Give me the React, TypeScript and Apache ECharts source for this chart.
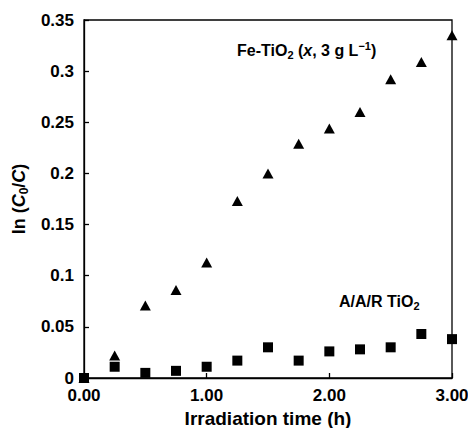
import React, { useEffect, useRef } from "react";
import * as echarts from "echarts";

const times = [0, 0.25, 0.5, 0.75, 1.0, 1.25, 1.5, 1.75, 2.0, 2.25, 2.5, 2.75, 3.0];
const feTiO2 = [0, 0.022, 0.071, 0.086, 0.113, 0.173, 0.2, 0.229, 0.244, 0.26, 0.292, 0.309, 0.335];
const aarTiO2 = [0, 0.011, 0.005, 0.007, 0.011, 0.017, 0.03, 0.017, 0.026, 0.028, 0.03, 0.043, 0.038];
const yTicks = { min: 0, max: 0.35, interval: 0.05 };
const xTicks = { min: 0, max: 3, interval: 1 };

const FONT = "'Liberation Sans', Arial, sans-serif";

export default function App() {
  const ref = useRef<HTMLDivElement>(null);
  useEffect(() => {
    if (!ref.current) return;
    const chart = echarts.init(ref.current, undefined, { renderer: "svg" });
    chart.setOption({
      animation: false,
      backgroundColor: "#fff",
      grid: {
        left: 84,
        right: 16,
        top: 20,
        bottom: 50,
        outerBoundsMode: "none",
        containLabel: false,
        show: true,
        borderColor: "#000",
        borderWidth: 1.3,
        backgroundColor: "transparent",
      },
      xAxis: {
        type: "value",
        min: xTicks.min,
        max: xTicks.max,
        interval: xTicks.interval,
        name: "Irradiation time (h)",
        nameLocation: "middle",
        nameGap: 31,
        nameTextStyle: { fontFamily: FONT, fontWeight: "bold", fontSize: 19, color: "#000", lineHeight: 19 },
        axisLine: { show: true, onZero: false, lineStyle: { color: "#000", width: 1.3 } },
        axisTick: { show: true, inside: true, length: 5, lineStyle: { color: "#000", width: 1.3 } },
        axisLabel: {
          fontFamily: FONT,
          fontWeight: "bold",
          fontSize: 17,
          lineHeight: 15,
          color: "#000",
          margin: 10,
          formatter: (v: number) => v.toFixed(2),
        },
        splitLine: { show: false },
      },
      yAxis: {
        type: "value",
        min: yTicks.min,
        max: yTicks.max,
        interval: yTicks.interval,
        name: "{n|ln (}{i|C}{s|0}{n|/}{i|C}{n|)}",
        nameLocation: "middle",
        nameGap: 52,
        nameRotate: 90,
        nameTextStyle: {
          fontFamily: FONT,
          fontWeight: "bold",
          fontSize: 18,
          color: "#000",
          rich: {
            n: { fontFamily: FONT, fontWeight: "bold", fontSize: 18, color: "#000", lineHeight: 22, verticalAlign: "middle" },
            i: { fontFamily: FONT, fontWeight: "bold", fontStyle: "italic", fontSize: 18, color: "#000", lineHeight: 22, verticalAlign: "middle" },
            s: { fontFamily: FONT, fontWeight: "bold", fontSize: 12, color: "#000", lineHeight: 22, verticalAlign: "bottom" },
          },
        },
        axisLine: { show: true, lineStyle: { color: "#000", width: 1.3 } },
        axisTick: { show: true, inside: true, length: 5, lineStyle: { color: "#000", width: 1.3 } },
        axisLabel: { fontFamily: FONT, fontWeight: "bold", fontSize: 17, lineHeight: 13, color: "#000", margin: 10 },
        splitLine: { show: false },
      },
      graphic: [
        {
          type: "text",
          left: 237,
          top: 40,
          style: {
            text: "{n|Fe-TiO}{s|2}{n| (}{i|x}{n|, 3 g L}{p|−1}{n|)}",
            rich: {
              n: { fontFamily: FONT, fontWeight: "bold", fontSize: 16, fill: "#000", lineHeight: 20, verticalAlign: "middle" },
              i: { fontFamily: FONT, fontWeight: "bold", fontStyle: "italic", fontSize: 16, fill: "#000", lineHeight: 20, verticalAlign: "middle" },
              s: { fontFamily: FONT, fontWeight: "bold", fontSize: 11, fill: "#000", lineHeight: 20, verticalAlign: "bottom" },
              p: { fontFamily: FONT, fontWeight: "bold", fontSize: 11, fill: "#000", lineHeight: 20, verticalAlign: "top" },
            },
          },
        },
        {
          type: "text",
          left: 339,
          top: 293,
          style: {
            text: "{n|A/A/R TiO}{s|2}",
            rich: {
              n: { fontFamily: FONT, fontWeight: "bold", fontSize: 16, fill: "#000", lineHeight: 20, verticalAlign: "middle" },
              s: { fontFamily: FONT, fontWeight: "bold", fontSize: 11, fill: "#000", lineHeight: 20, verticalAlign: "bottom" },
            },
          },
        },
      ],
      series: [
        {
          type: "scatter",
          name: "Fe-TiO2",
          symbol: "triangle",
          symbolSize: [11, 10],
          clip: false,
          itemStyle: { color: "#000", opacity: 1 },
          data: times.map((t, i) => [t, feTiO2[i]]),
          z: 2,
        },
        {
          type: "scatter",
          name: "A/A/R TiO2",
          symbol: "rect",
          symbolSize: 10,
          clip: false,
          itemStyle: { color: "#000", opacity: 1 },
          data: times.map((t, i) => [t, aarTiO2[i]]),
          z: 3,
        },
      ],
    });
    return () => chart.dispose();
  }, []);
  return <div ref={ref} style={{ width: 468, height: 428, position: "absolute", left: 0, top: 0 }} />;
}
